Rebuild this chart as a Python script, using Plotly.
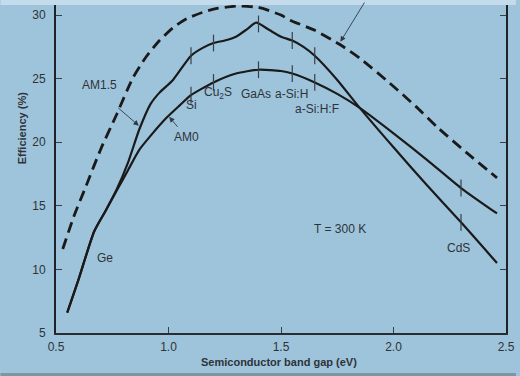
import numpy as np
import plotly.graph_objects as go

# ---- data ----
x_dash = [0.53, 0.58, 0.63, 0.70, 0.77, 0.84, 0.90, 0.96, 1.02, 1.08, 1.15, 1.21, 1.30, 1.40,
          1.50, 1.54, 1.65, 1.76, 1.85, 1.98, 2.10, 2.20, 2.33, 2.46]
y_dash = [11.6, 14.2, 16.4, 19.5, 22.2, 25.0, 26.7, 28.0, 29.0, 29.7, 30.2, 30.5, 30.7, 30.6,
          30.0, 29.6, 28.8, 27.7, 26.6, 24.7, 22.8, 21.1, 19.1, 17.2]

x_am15 = [0.55, 0.60, 0.67, 0.72, 0.77, 0.82, 0.87, 0.92, 0.96, 1.02, 1.10, 1.15, 1.20, 1.25,
          1.30, 1.35, 1.39, 1.45, 1.50, 1.55, 1.60, 1.65, 1.75, 1.85, 2.00, 2.15, 2.30, 2.46]
y_am15 = [6.6, 9.2, 13.0, 14.6, 16.3, 18.4, 21.0, 23.0, 23.9, 24.9, 26.8, 27.4, 27.8, 28.0,
          28.3, 28.9, 29.4, 28.8, 28.3, 28.0, 27.5, 26.8, 24.9, 22.7, 19.6, 16.6, 13.7, 10.5]

x_am0 = [0.55, 0.60, 0.67, 0.72, 0.77, 0.82, 0.87, 0.92, 0.99, 1.05, 1.10, 1.20, 1.30, 1.40,
         1.50, 1.55, 1.65, 1.75, 1.85, 2.00, 2.15, 2.30, 2.46]
y_am0 = [6.6, 9.2, 13.0, 14.6, 16.2, 17.8, 19.4, 20.5, 21.9, 22.9, 23.7, 24.7, 25.4, 25.7,
         25.6, 25.4, 24.7, 23.8, 22.7, 20.7, 18.6, 16.4, 14.4]

materials = ["Si", "Cu<sub>2</sub>S", "GaAs", "a-Si:H", "a-Si:H:F", "CdS"]
material_gap = [1.10, 1.20, 1.40, 1.55, 1.65, 2.30]

x_ticks = [0.5, 1.0, 1.5, 2.0, 2.5]
y_ticks = [5, 10, 15, 20, 25, 30]

BG = "#9ec4dc"
INK = "#1a1a1a"
TXT = "#2e3338"
TICKC = "#3a3f44"
FONT = "Liberation Sans, Arial, sans-serif"

W, H = 520, 376
L, R, T, B = 56, 10, 5, 43
pw, ph = W - L - R, H - T - B

def px2paper(px, py):
    return (px - L) / pw, (H - B - py) / ph

fig = go.Figure()
fig.add_trace(go.Scatter(x=x_dash, y=y_dash, mode="lines",
                         line=dict(color=INK, width=2.8, dash="11px,6px", shape="spline", smoothing=0.6),
                         showlegend=False, hoverinfo="skip"))
fig.add_trace(go.Scatter(x=x_am0, y=y_am0, mode="lines",
                         line=dict(color=INK, width=2.2, shape="spline", smoothing=0.6),
                         showlegend=False, hoverinfo="skip"))
fig.add_trace(go.Scatter(x=x_am15, y=y_am15, mode="lines",
                         line=dict(color=INK, width=2.2, shape="spline", smoothing=0.6),
                         showlegend=False, hoverinfo="skip"))

# small vertical tick marks where each material sits on the two solid curves
for xs, ys in ((x_am0, y_am0), (x_am15, y_am15)):
    fig.add_trace(go.Scatter(x=material_gap, y=list(np.interp(material_gap, xs, ys)), mode="markers",
                             marker=dict(symbol="line-ns-open", size=12, color=TICKC,
                                         line=dict(color=TICKC, width=1.2)),
                             showlegend=False, hoverinfo="skip"))

ann = []
def label(text, x, y, size=12):
    ann.append(dict(x=x, y=y, xref="x", yref="y", text=text, showarrow=False,
                    xanchor="center", yanchor="middle",
                    font=dict(family=FONT, size=size, color=TXT)))

label("Ge", 0.718, 10.9)
label("Si", 1.104, 22.9)
label("Cu<sub>2</sub>S", 1.222, 23.9)
label("GaAs", 1.39, 23.8)
label("a-Si:H", 1.545, 23.8)
label("a-Si:H:F", 1.66, 22.6)
label("CdS", 2.29, 11.7)
label("T = 300 K", 1.76, 13.2)
label("AM1.5", 0.694, 24.5)
label("AM0", 1.08, 20.4)

def arrow(xh, yh, xt, yt):
    ann.append(dict(x=xh, y=yh, ax=xt, ay=yt, xref="x", yref="y", axref="x", ayref="y",
                    text="", showarrow=True, arrowhead=2, arrowsize=1.2, arrowwidth=0.9,
                    arrowcolor="#2f3a44"))

arrow(0.868, 21.3, 0.77, 22.8)
arrow(1.003, 22.0, 1.046, 21.1)
arrow(1.764, 27.9, 1.875, 31.1)

xt_x, xt_y = px2paper(281, 362)
ann.append(dict(x=xt_x, y=xt_y, xref="paper", yref="paper", xanchor="center", yanchor="middle",
                text="<b>Semiconductor band gap (eV)</b>", showarrow=False,
                font=dict(family=FONT, size=11, color=TXT)))
yt_x, yt_y = px2paper(22, 128)
ann.append(dict(x=yt_x, y=yt_y, xref="paper", yref="paper", xanchor="center", yanchor="middle",
                text="<b>Efficiency (%)</b>", textangle=-90, showarrow=False,
                font=dict(family=FONT, size=11, color=TXT)))
fig.update_layout(annotations=ann)

# faint photo borders
fig.add_shape(type="rect", xref="paper", yref="paper", x0=px2paper(0, 0)[0], x1=px2paper(520, 0)[0],
              y0=px2paper(0, 5)[1], y1=px2paper(0, 0)[1], fillcolor="#c3dbea", line_width=0, layer="above")
fig.add_shape(type="rect", xref="paper", yref="paper", x0=px2paper(0, 0)[0], x1=px2paper(520, 0)[0],
              y0=px2paper(0, 376)[1], y1=px2paper(0, 373)[1], fillcolor="#7d95a5", line_width=0, layer="above")

fig.update_xaxes(range=[0.5, 2.5], tickvals=x_ticks, ticktext=[f"{v:.1f}" for v in x_ticks],
                 ticks="inside", ticklen=6, tickcolor=TICKC, tickwidth=1,
                 showline=True, linecolor="#2a2e33", linewidth=1.6, showgrid=False, zeroline=False,
                 tickfont=dict(family=FONT, size=12, color=TXT), ticklabelstandoff=2)
fig.update_yaxes(range=[5, 30.79], tickvals=y_ticks, ticks="inside", ticklen=6, tickcolor=TICKC,
                 tickwidth=1, showline=True, linecolor="#1f2327", linewidth=2, mirror="ticks",
                 showgrid=False, zeroline=False, tickfont=dict(family=FONT, size=12, color=TXT),
                 ticklabelstandoff=6)

fig.update_layout(width=W, height=H, margin=dict(l=L, r=R, t=T, b=B, pad=0),
                  paper_bgcolor=BG, plot_bgcolor=BG, showlegend=False)

fig.write_html("out.html")
